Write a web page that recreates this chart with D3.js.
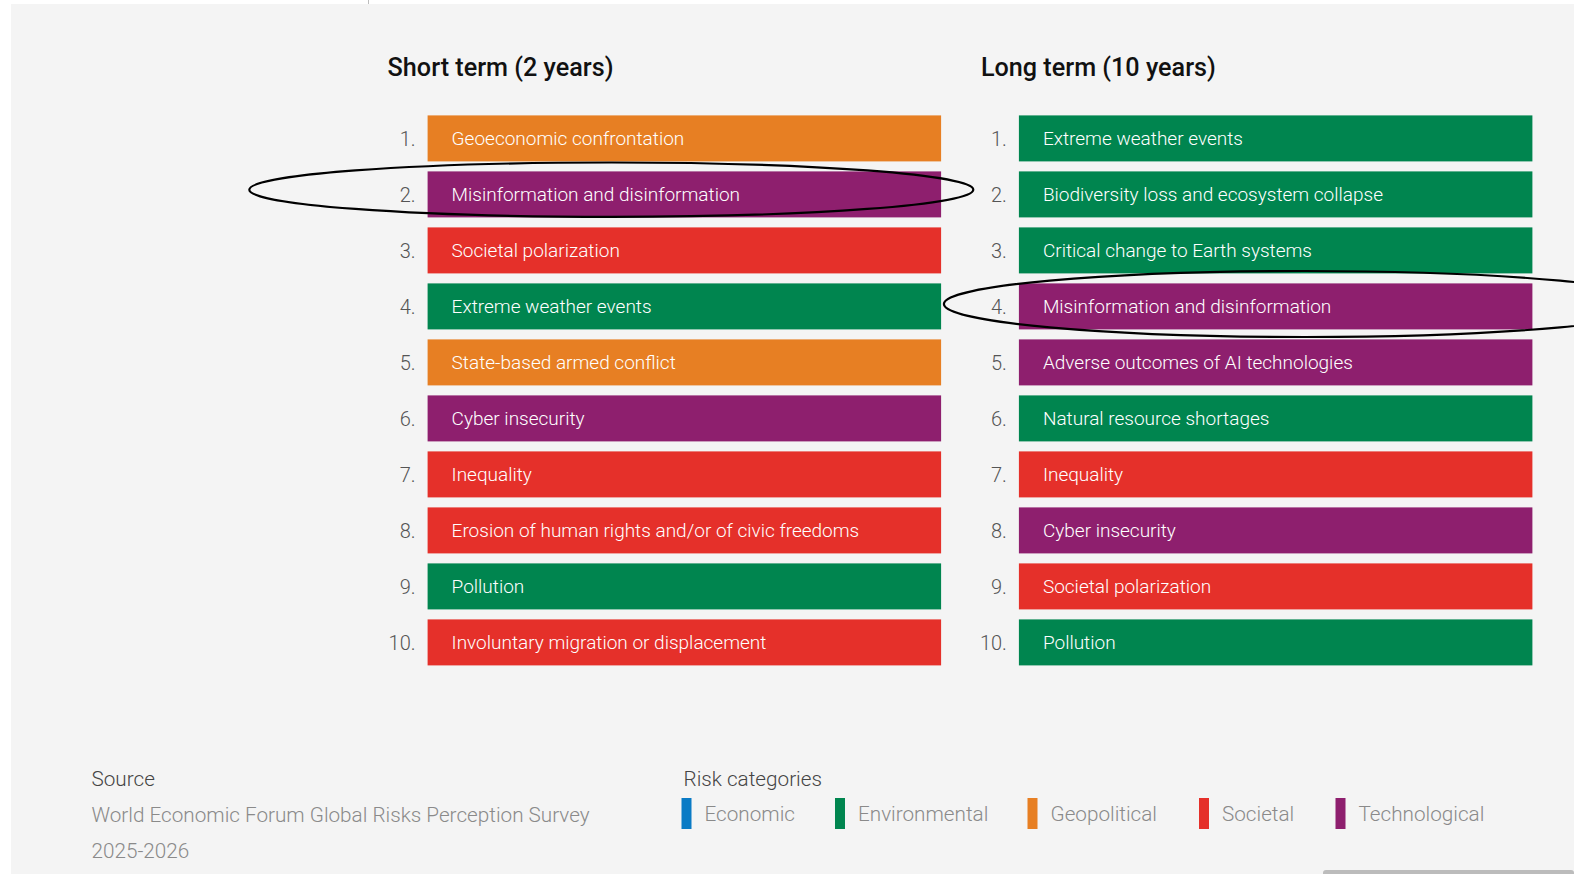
<!DOCTYPE html>
<html>
<head>
<meta charset="utf-8">
<script src="https://cdn.jsdelivr.net/npm/d3@7"></script>
<style>
  html, body { margin: 0; padding: 0; background: #ffffff; }
  svg { display: block; }
  text { font-family: Roboto, "Liberation Sans", Arial, sans-serif; }
</style>
</head>
<body>
<svg id="chart" width="1574" height="874"></svg>
<script>
// ---------- data ----------
const ranks = [1, 2, 3, 4, 5, 6, 7, 8, 9, 10];
const rankLabels = ["1.", "2.", "3.", "4.", "5.", "6.", "7.", "8.", "9.", "10."];

const shortTitle = "Short term (2 years)";
const shortRisks = [
  "Geoeconomic confrontation",
  "Misinformation and disinformation",
  "Societal polarization",
  "Extreme weather events",
  "State-based armed conflict",
  "Cyber insecurity",
  "Inequality",
  "Erosion of human rights and/or of civic freedoms",
  "Pollution",
  "Involuntary migration or displacement"
];
const shortCats = ["Geopolitical", "Technological", "Societal", "Environmental", "Geopolitical",
  "Technological", "Societal", "Societal", "Environmental", "Societal"];

const longTitle = "Long term (10 years)";
const longRisks = [
  "Extreme weather events",
  "Biodiversity loss and ecosystem collapse",
  "Critical change to Earth systems",
  "Misinformation and disinformation",
  "Adverse outcomes of AI technologies",
  "Natural resource shortages",
  "Inequality",
  "Cyber insecurity",
  "Societal polarization",
  "Pollution"
];
const longCats = ["Environmental", "Environmental", "Environmental", "Technological", "Technological",
  "Environmental", "Societal", "Technological", "Societal", "Environmental"];

const categories = ["Economic", "Environmental", "Geopolitical", "Societal", "Technological"];
const categoryColors = ["#0a7bc5", "#00854f", "#e77f23", "#e5302a", "#8e1f6e"];

const highlightRisk = "Misinformation and disinformation";

const sourceTitle = "Source";
const sourceLines = ["World Economic Forum Global Risks Perception Survey", "2025-2026"];
const legendTitle = "Risk categories";

// ---------- layout ----------
const W = 1574, H = 874;
const svg = d3.select("#chart");

const color = d3.scaleOrdinal().domain(categories).range(categoryColors);

// panel background
svg.append("rect").attr("x", 11).attr("y", 4).attr("width", W - 11).attr("height", H - 4)
  .attr("fill", "#f4f4f4");
svg.append("line").attr("x1", 368.5).attr("x2", 368.5).attr("y1", 0).attr("y2", 4)
  .attr("stroke", "#bdbdbd").attr("stroke-width", 1);
svg.append("rect").attr("x", 1323).attr("y", 870).attr("width", W - 1323).attr("height", 6)
  .attr("rx", 3).attr("fill", "#bcbcbc");

const y = d3.scaleBand().domain(ranks).range([110.4, 670.4])
  .paddingInner(10 / 56).paddingOuter(5 / 56);

const panelX = d3.scaleOrdinal().domain(["short", "long"]).range([427.6, 1018.9]);
const barW = 513.5;
const xBar = d3.scaleLinear().domain([0, 1]).range([0, barW]);

const panels = [
  { key: "short", title: shortTitle, titleDx: -40, risks: shortRisks, cats: shortCats, ell: { dx: 183.7, dy: -4.7, rx: 362, ry: 27.2 } },
  { key: "long", title: longTitle, titleDx: -38, risks: longRisks, cats: longCats, ell: { dx: 286, dy: -2.4, rx: 361, ry: 33 } }
];

panels.forEach(p => {
  const x0 = panelX(p.key);
  const g = svg.append("g").attr("transform", `translate(${x0},0)`);

  g.append("text").attr("x", p.titleDx).attr("y", 76)
    .attr("font-size", 25.2).attr("font-weight", 500).attr("fill", "#111")
    .text(p.title);

  const rows = g.selectAll("g.row").data(ranks).join("g").attr("class", "row");

  rows.append("rect")
    .attr("x", xBar(0)).attr("y", d => y(d))
    .attr("width", xBar(1) - xBar(0)).attr("height", y.bandwidth())
    .attr("fill", (d, i) => color(p.cats[i]));

  rows.append("text")
    .attr("x", -12).attr("y", d => y(d) + y.bandwidth() / 2).attr("dy", "0.36em")
    .attr("text-anchor", "end").attr("font-size", 20).attr("font-weight", 300)
    .attr("fill", "#555")
    .text((d, i) => rankLabels[i]);

  rows.append("text")
    .attr("x", 24).attr("y", d => y(d) + y.bandwidth() / 2).attr("dy", "0.36em")
    .attr("font-size", 19).attr("font-weight", 300).attr("fill", "#ffffff")
    .text((d, i) => p.risks[i]);

  const hi = p.risks.indexOf(highlightRisk);
  if (hi >= 0) {
    const r = ranks[hi];
    g.append("ellipse")
      .attr("cx", p.ell.dx).attr("cy", y(r) + y.bandwidth() / 2 + p.ell.dy)
      .attr("rx", p.ell.rx).attr("ry", p.ell.ry)
      .attr("fill", "none").attr("stroke", "#000").attr("stroke-width", 2.2);
  }
});

// ---------- footer ----------
const foot = svg.append("g");
foot.append("text").attr("x", 91.5).attr("y", 786).attr("font-size", 20.7).attr("font-weight", 300)
  .attr("fill", "#444").text(sourceTitle);
foot.selectAll("text.src").data(sourceLines).join("text").attr("class", "src")
  .attr("x", 91.5).attr("y", (d, i) => 822 + i * 35.5)
  .attr("font-size", 20.7).attr("font-weight", 300).attr("fill", "#8a8a8a").text(d => d);

foot.append("text").attr("x", 683.5).attr("y", 786).attr("font-size", 20.7).attr("font-weight", 300)
  .attr("fill", "#444").text(legendTitle);

const legendX = d3.scaleOrdinal().domain(categories).range([681.5, 835, 1027.5, 1199, 1335.5]);
const lg = foot.selectAll("g.lg").data(categories).join("g").attr("class", "lg")
  .attr("transform", d => `translate(${legendX(d)},798)`);
lg.append("rect").attr("x", 0).attr("y", 0).attr("width", 10).attr("height", 31)
  .attr("fill", d => color(d));
lg.append("text").attr("x", 23).attr("y", 15.5).attr("dy", "0.36em")
  .attr("font-size", 20.7).attr("font-weight", 300).attr("fill", "#8a8a8a").text(d => d);
</script>
</body>
</html>
